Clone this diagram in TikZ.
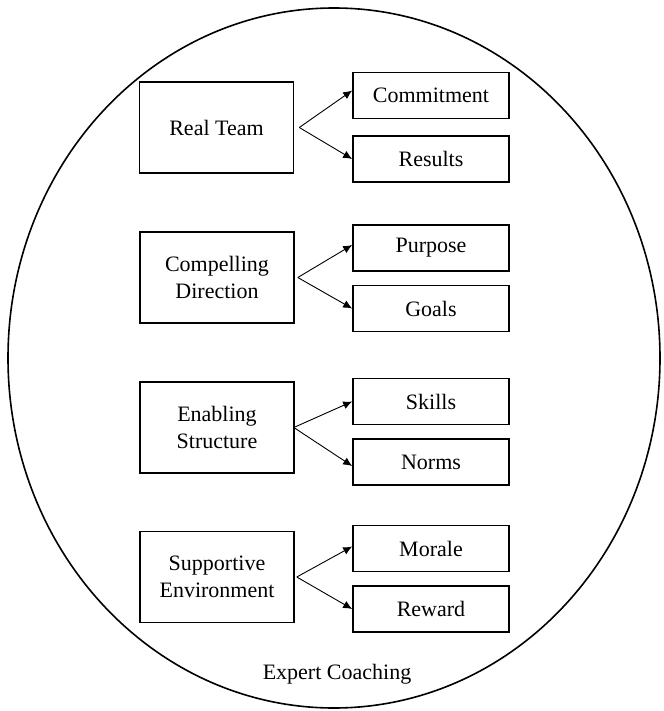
\documentclass[tikz,border=0pt]{standalone}
\usepackage{fontspec}
\setmainfont{Liberation Serif}
\usetikzlibrary{arrows.meta}
\tikzset{
  bigbox/.style={draw=black, line width=1.6pt, minimum width=154pt, minimum height=91pt, inner sep=0pt, align=center, font=\fontsize{22}{26.4}\selectfont},
  smallbox/.style={draw=black, line width=1.6pt, minimum width=156pt, minimum height=46pt, inner sep=0pt, align=center, font=\fontsize{22}{26.4}\selectfont},
  link/.style={line width=0.9pt, -{Latex[length=9pt,width=8pt]}},
  rim/.style={draw=black, line width=1.6pt}
}
\begin{document}
\begin{tikzpicture}[x=1pt,y=-1pt]
\useasboundingbox (0,0) rectangle (663,711);
\draw[rim] (334,358) ellipse [x radius=326, y radius=350];
% left boxes
\node[bigbox] (rt) at (216.5,127.5) {Real Team};
\node[bigbox] (cd) at (217,277.5) {Compelling\\Direction};
\node[bigbox] (es) at (217,427.5) {Enabling\\Structure};
\node[bigbox] (se) at (217,577) {Supportive\\Environment};
% right boxes
\node[smallbox] (com) at (431,95.5) {Commitment};
\node[smallbox] (res) at (431,159) {Results};
\node[smallbox] (pur) at (431,248) {Purpose};
\node[smallbox] (goa) at (431,308.5) {Goals};
\node[smallbox] (ski) at (431,401.5) {Skills};
\node[smallbox] (nor) at (431,462) {Norms};
\node[smallbox] (mor) at (431,548.5) {Morale};
\node[smallbox] (rew) at (431,609) {Reward};
% fork points
\coordinate (f1) at ([xshift=5pt]rt.east);
\coordinate (f2) at ([xshift=3pt]cd.east);
\coordinate (f3) at ([xshift=-1pt]es.east);
\coordinate (f4) at ([xshift=2pt]se.east);
\draw[link] (f1) -- ([yshift=5pt]com.west);
\draw[link] (f1) -- (res.west);
\draw[link] (f2) -- ([yshift=3pt]pur.west);
\draw[link] (f2) -- (goa.west);
\draw[link] (f3) -- (ski.west);
\draw[link] (f3) -- ([yshift=-4pt]nor.west);
\draw[link] (f4) -- ([yshift=2pt]mor.west);
\draw[link] (f4) -- (rew.west);
\node[font=\fontsize{22}{26.4}\selectfont, inner sep=0pt] (ec) at (337,674) {Expert Coaching};
\end{tikzpicture}
\end{document}
